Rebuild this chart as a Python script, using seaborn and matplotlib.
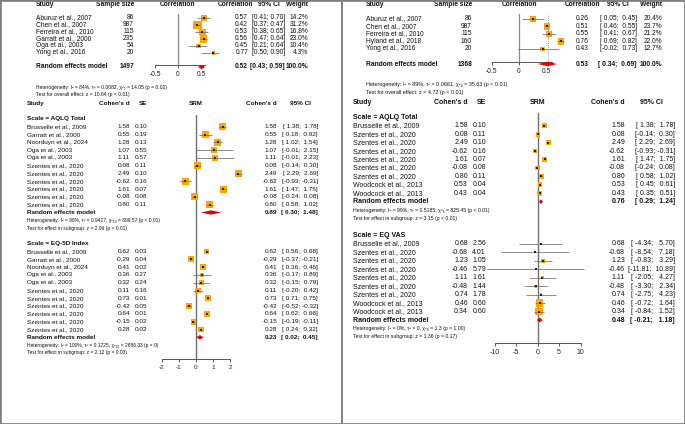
import numpy as np
import pandas as pd
import matplotlib
matplotlib.use('Agg')
import matplotlib.pyplot as plt
import seaborn as sns
from matplotlib.transforms import blended_transform_factory
from matplotlib.patches import Rectangle
from matplotlib.lines import Line2D

sns.set_style('white')
plt.rcParams['font.family'] = ['Liberation Sans', 'DejaVu Sans']

### DATA

# correlation, left panel
corL_study = ['Aburuz et al., 2007', 'Chen et al., 2007', 'Ferreira et al., 2010',
              'Garratt et al., 2000', 'Oga et al., 2003', 'Yong et al., 2016']
corL_n = [86, 987, 115, 235, 54, 20]
corL_r = [0.57, 0.42, 0.53, 0.56, 0.45, 0.77]
corL_lo = [0.41, 0.37, 0.38, 0.47, 0.21, 0.50]
corL_hi = [0.70, 0.47, 0.65, 0.64, 0.64, 0.90]
corL_w = [14.2, 31.2, 16.8, 23.0, 10.4, 4.3]
corL_pool = [1497, 0.52, 0.43, 0.59]
corL_het = 'Heterogeneity: I² = 84%, τ² = 0.0082, χ²₅ = 14.05 (p = 0.02)'
corL_test = 'Test for overall effect: z = 10.64 (p < 0.01)'

# correlation, right panel
corR_study = ['Aburuz et al., 2007', 'Chen et al., 2007', 'Ferreira et al., 2010',
              'Hyland et al., 2018', 'Yong et al., 2016']
corR_n = [86, 987, 115, 160, 20]
corR_r = [0.26, 0.51, 0.55, 0.76, 0.43]
corR_lo = [0.05, 0.46, 0.41, 0.69, -0.02]
corR_hi = [0.45, 0.55, 0.67, 0.82, 0.73]
corR_w = [20.4, 23.7, 21.2, 22.0, 12.7]
corR_pool = [1368, 0.53, 0.34, 0.69]
corR_het = 'Heterogeneity: I² = 89%, τ² = 0.0661, χ²₄ = 35.63 (p < 0.01)'
corR_test = 'Test for overall effect: z = 4.72 (p < 0.01)'

cor_ticks = [-0.5, 0, 0.5]
cor_ticklabels = ['-0.5', '0', '0.5']

# SRM, left panel, AQLQ Total
srmL1_study = ['Brusselle et al., 2009', 'Garratt et al., 2000', 'Noorduyn et al., 2024',
               'Oga et al., 2003', 'Oga et al., 2003', 'Szentes et al., 2020',
               'Szentes et al., 2020', 'Szentes et al., 2020', 'Szentes et al., 2020',
               'Szentes et al., 2020', 'Szentes et al., 2020']
srmL1_d = [1.58, 0.55, 1.28, 1.07, 1.11, 0.08, 2.49, -0.62, 1.61, -0.08, 0.80]
srmL1_se = [0.10, 0.19, 0.13, 0.55, 0.57, 0.11, 0.10, 0.16, 0.07, 0.08, 0.11]
srmL1_lo = [1.38, 0.18, 1.02, -0.01, -0.01, -0.14, 2.29, -0.93, 1.47, -0.24, 0.58]
srmL1_hi = [1.78, 0.92, 1.54, 2.15, 2.23, 0.30, 2.69, -0.31, 1.75, 0.08, 1.02]
srmL1_pool = [0.89, 0.30, 1.48]
srmL1_tau2 = 0.9417
srmL1_het = 'Heterogeneity: I² = 98%, τ² = 0.9417, χ²₁₀ = 899.57 (p < 0.01)'
srmL1_test = 'Test for effect in subgroup: z = 2.96 (p < 0.01)'

# SRM, left panel, EQ-5D Index
srmL2_study = ['Brusselle et al., 2009', 'Garratt et al., 2000', 'Noorduyn et al., 2024',
               'Oga et al., 2003', 'Oga et al., 2003', 'Szentes et al., 2020',
               'Szentes et al., 2020', 'Szentes et al., 2020', 'Szentes et al., 2020',
               'Szentes et al., 2020', 'Szentes et al., 2020']
srmL2_d = [0.62, -0.29, 0.41, 0.36, 0.32, 0.11, 0.73, -0.42, 0.64, -0.15, 0.28]
srmL2_se = [0.03, 0.04, 0.02, 0.27, 0.24, 0.16, 0.01, 0.05, 0.01, 0.02, 0.02]
srmL2_lo = [0.56, -0.37, 0.36, -0.17, -0.15, -0.20, 0.71, -0.52, 0.62, -0.19, 0.24]
srmL2_hi = [0.68, -0.21, 0.46, 0.89, 0.79, 0.42, 0.75, -0.32, 0.66, -0.11, 0.32]
srmL2_pool = [0.23, 0.02, 0.45]
srmL2_tau2 = 0.1225
srmL2_het = 'Heterogeneity: I² = 100%, τ² = 0.1225, χ²₁₀ = 2656.33 (p = 0)'
srmL2_test = 'Test for effect in subgroup: z = 2.12 (p = 0.03)'

srmL_ticks = [-2, -1, 0, 1, 2]
srmL_ticklabels = ['-2', '-1', '0', '1', '2']

# SRM, right panel, AQLQ Total
srmR1_study = ['Brusselle et al., 2009', 'Szentes et al., 2020', 'Szentes et al., 2020',
               'Szentes et al., 2020', 'Szentes et al., 2020', 'Szentes et al., 2020',
               'Szentes et al., 2020', 'Woodcock et al., 2013', 'Woodcock et al., 2013']
srmR1_d = [1.58, 0.08, 2.49, -0.62, 1.61, -0.08, 0.80, 0.53, 0.43]
srmR1_se = [0.10, 0.11, 0.10, 0.16, 0.07, 0.08, 0.11, 0.04, 0.04]
srmR1_lo = [1.38, -0.14, 2.29, -0.93, 1.47, -0.24, 0.58, 0.45, 0.35]
srmR1_hi = [1.78, 0.30, 2.69, -0.31, 1.75, 0.08, 1.02, 0.61, 0.51]
srmR1_pool = [0.76, 0.29, 1.24]
srmR1_tau2 = 0.5185
srmR1_het = 'Heterogeneity: I² = 99%, τ² = 0.5185, χ²₈ = 825.45 (p < 0.01)'
srmR1_test = 'Test for effect in subgroup: z = 3.15 (p < 0.01)'

# SRM, right panel, EQ VAS
srmR2_study = ['Brusselle et al., 2009', 'Szentes et al., 2020', 'Szentes et al., 2020',
               'Szentes et al., 2020', 'Szentes et al., 2020', 'Szentes et al., 2020',
               'Szentes et al., 2020', 'Woodcock et al., 2013', 'Woodcock et al., 2013']
srmR2_d = [0.68, -0.68, 1.23, -0.46, 1.11, -0.48, 0.74, 0.46, 0.34]
srmR2_se = [2.56, 4.01, 1.05, 5.79, 1.61, 1.44, 1.78, 0.60, 0.60]
srmR2_lo = [-4.34, -8.54, -0.83, -11.81, -2.05, -3.30, -2.75, -0.72, -0.84]
srmR2_hi = [5.70, 7.18, 3.29, 10.89, 4.27, 2.34, 4.23, 1.64, 1.52]
srmR2_pool = [0.48, -0.21, 1.18]
srmR2_tau2 = 0.0
srmR2_het = 'Heterogeneity: I² = 0%, τ² = 0, χ²₈ = 1.3 (p = 1.00)'
srmR2_test = 'Test for effect in subgroup: z = 1.36 (p = 0.17)'

srmR_ticks = [-10, -5, 0, 5, 10]
srmR_ticklabels = ['-10', '-5', '0', '5', '10']

### STYLE
ORANGE = '#ffa500'
RED = '#e00000'
CI_COL = '#6e6e6e'
ZERO_COL = '#8a8a8a'

W, H = 685, 424
fig = plt.figure(figsize=(W / 100, H / 100), dpi=100)


def make_axes(zero, ppu, xlim, row0, step, top, bot):
    x0 = zero + xlim[0] * ppu
    x1 = zero + xlim[1] * ppu
    y0 = row0 + top * step
    y1 = row0 + bot * step
    ax = fig.add_axes([x0 / W, 1 - y1 / H, (x1 - x0) / W, (y1 - y0) / H])
    ax.patch.set_alpha(0)
    ax.lims = (xlim, (bot, top))
    return ax


def finish(ax, ticks, labels, fs):
    ax.set_xlim(ax.lims[0])
    ax.set_ylim(ax.lims[1])
    for s in ['top', 'right', 'left']:
        ax.spines[s].set_visible(False)
    ax.spines['bottom'].set_color('#555555')
    ax.spines['bottom'].set_linewidth(0.7)
    ax.set_yticks([])
    ax.set_xticks(ticks)
    ax.set_xticklabels(labels)
    ax.tick_params(axis='x', length=2.5, width=0.7, color='#555555', labelsize=fs,
                   pad=1.8, labelcolor='#222222', bottom=True)
    ax.set_xlabel('')
    ax.set_ylabel('')
    ax.grid(False)


def put(ax, xpx, slot, s, ha='left', fs=4.5, bold=False):
    tr = blended_transform_factory(fig.transFigure, ax.transData)
    ax.text(xpx / W, slot, s, transform=tr, ha=ha, va='center', fontsize=fs,
            fontweight='bold' if bold else 'normal', color='#111111', clip_on=False)


def studies(ax, est, lo, hi, w, slots, smax):
    d = pd.DataFrame({'est': est, 'slot': slots, 'w': w})
    sns.scatterplot(data=d, x='est', y='slot', size='w', sizes=(0, smax),
                    size_norm=(0, max(w)), marker='s', color=ORANGE, edgecolor='none',
                    linewidth=0, legend=False, ax=ax, zorder=3, clip_on=False)
    ax.hlines(slots, lo, hi, color=CI_COL, lw=0.55, zorder=4, clip_on=False)
    ax.scatter(est, slots, s=0.7, color='#222222', marker='s', lw=0, zorder=5, clip_on=False)


def pooled(ax, est, lo, hi, slot, h):
    ax.fill([lo, est, hi, est], [slot, slot - h, slot, slot + h], color=RED, lw=0,
            zorder=6, clip_on=False)


def ci_txt(lo, hi, width):
    return f'[{lo:>{width}.2f}; {hi:>{width}.2f}]'


def ci_width(vals):
    return max(len(f'{v:.2f}') for v in vals)


### CORRELATION FORESTS
def cor_forest(study, n, r, lo, hi, w, pool, het, test, zero, ppu, xlim, row0, step,
               cols, fs, fs_small, smax, het_slots, dotted):
    nrow = len(study)
    ax = make_axes(zero, ppu, xlim, row0, step, -0.6, nrow + 0.7)
    slots = np.arange(nrow)
    ax.axvline(0, color=ZERO_COL, lw=0.9, zorder=1)
    if dotted:
        ax.axvline(pool[1], color='#777777', lw=0.6, ls=(0, (1, 1.5)), zorder=1)
    studies(ax, r, lo, hi, w, slots, smax)
    pooled(ax, pool[1], pool[2], pool[3], nrow + 1, 0.3)
    wd = ci_width(lo + hi + pool[2:])
    c = cols
    put(ax, c['study'], -1.9, 'Study', fs=fs, bold=True)
    put(ax, c['n'], -1.9, 'Sample size', 'right', fs, True)
    put(ax, zero, -1.9, 'Correlation', 'center', fs, True)
    put(ax, c['r_head'], -1.9, 'Correlation', 'right', fs, True)
    put(ax, c['ci_head'], -1.9, '95% CI', 'center', fs, True)
    put(ax, c['w'], -1.9, 'Weight', 'right', fs, True)
    for i in range(nrow):
        put(ax, c['study'], i, study[i], fs=fs)
        put(ax, c['n'], i, str(n[i]), 'right', fs)
        put(ax, c['r'], i, f'{r[i]:.2f}', 'right', fs)
        put(ax, c['ci'], i, ci_txt(lo[i], hi[i], wd), 'right', fs)
        put(ax, c['w'], i, f'{w[i]:.1f}%', 'right', fs)
    k = nrow + 1
    put(ax, c['study'], k, 'Random effects model', fs=fs, bold=True)
    put(ax, c['n'], k, str(pool[0]), 'right', fs, True)
    put(ax, c['r'], k, f'{pool[1]:.2f}', 'right', fs, True)
    put(ax, c['ci'], k, ci_txt(pool[2], pool[3], wd), 'right', fs, True)
    put(ax, c['w'], k, '100.0%', 'right', fs, True)
    put(ax, c['study'], het_slots[0], het, fs=fs_small)
    put(ax, c['study'], het_slots[1], test, fs=fs_small)
    finish(ax, cor_ticks, cor_ticklabels, fs)
    return ax


cor_forest(corL_study, corL_n, corL_r, corL_lo, corL_hi, corL_w, corL_pool, corL_het, corL_test,
           zero=178, ppu=46, xlim=(-0.5, 0.58), row0=18, step=7,
           cols=dict(study=36, n=134, r_head=253, r=248, ci=285, ci_head=269, w=308),
           fs=4.8, fs_small=3.6, smax=38, het_slots=(10.0, 10.95), dotted=False)

cor_forest(corR_study, corR_n, corR_r, corR_lo, corR_hi, corR_w, corR_pool, corR_het, corR_test,
           zero=519, ppu=55, xlim=(-0.5, 0.6), row0=19, step=7.5,
           cols=dict(study=366, n=472, r_head=600, r=589, ci=637, ci_head=618, w=662),
           fs=4.8, fs_small=3.9, smax=22, het_slots=(8.75, 9.75), dotted=True)


### SRM FORESTS
def srm_forest(groups, zero, ppu, xlim, row0, step, top, bot, cols, fs, fs_small,
               ticks, ticklabels, head_slot):
    ax = make_axes(zero, ppu, xlim, row0, step, top, bot)
    ax.axvline(0, color='#707070', lw=1.0, zorder=1)
    c = cols
    put(ax, c['study'], head_slot, 'Study', fs=fs, bold=True)
    put(ax, c['d'], head_slot, "Cohen's d", 'right', fs, True)
    put(ax, c['se'], head_slot, 'SE', 'right', fs, True)
    put(ax, zero, head_slot, 'SRM', 'center', fs, True)
    put(ax, c['d2'], head_slot, "Cohen's d", 'right', fs, True)
    put(ax, c['ci_head'], head_slot, '95% CI', 'center', fs, True)
    for g in groups:
        start = g['start']
        nrow = len(g['study'])
        slots = np.arange(nrow) + start
        wts = [1.0 / (s ** 2 + g['tau2']) for s in g['se']]
        studies(ax, g['d'], g['lo'], g['hi'], wts, slots, g['smax'])
        p = g['pool']
        pooled(ax, p[0], p[1], p[2], start + nrow, 0.28)
        wd = ci_width(g['lo'] + g['hi'] + p[1:])
        put(ax, c['study'], start - 1, g['label'], fs=fs, bold=True)
        for i in range(nrow):
            put(ax, c['study'], slots[i], g['study'][i], fs=fs)
            put(ax, c['d'], slots[i], f"{g['d'][i]:.2f}", 'right', fs)
            put(ax, c['se'], slots[i], f"{g['se'][i]:.2f}", 'right', fs)
            put(ax, c['d2'], slots[i], f"{g['d'][i]:.2f}", 'right', fs)
            put(ax, c['ci'], slots[i], ci_txt(g['lo'][i], g['hi'][i], wd), 'right', fs)
        k = start + nrow
        put(ax, c['study'], k, 'Random effects model', fs=fs, bold=True)
        put(ax, c['d2'], k, f'{p[0]:.2f}', 'right', fs, True)
        put(ax, c['ci'], k, ci_txt(p[1], p[2], wd), 'right', fs, True)
        put(ax, c['study'], k + 1, g['het'], fs=fs_small)
        put(ax, c['study'], k + 2, g['test'], fs=fs_small)
    finish(ax, ticks, ticklabels, fs)
    return ax


srm_forest([
    dict(label='Scale = AQLQ Total', start=0, study=srmL1_study, d=srmL1_d, se=srmL1_se,
         lo=srmL1_lo, hi=srmL1_hi, pool=srmL1_pool, tau2=srmL1_tau2, het=srmL1_het,
         test=srmL1_test, smax=25),
    dict(label='Scale = EQ-5D Index', start=16, study=srmL2_study, d=srmL2_d, se=srmL2_se,
         lo=srmL2_lo, hi=srmL2_hi, pool=srmL2_pool, tau2=srmL2_tau2, het=srmL2_het,
         test=srmL2_test, smax=18),
], zero=196, ppu=17, xlim=(-2, 2), row0=126.7, step=7.8, top=-1.5, bot=29.8,
    cols=dict(study=26.7, d=130, se=147, d2=277, ci=318, ci_head=300),
    fs=4.6, fs_small=3.5, ticks=srmL_ticks, ticklabels=srmL_ticklabels, head_slot=-3.0)

srm_forest([
    dict(label='Scale = AQLQ Total', start=0, study=srmR1_study, d=srmR1_d, se=srmR1_se,
         lo=srmR1_lo, hi=srmR1_hi, pool=srmR1_pool, tau2=srmR1_tau2, het=srmR1_het,
         test=srmR1_test, smax=12),
    dict(label='Scale = EQ VAS', start=14, study=srmR2_study, d=srmR2_d, se=srmR2_se,
         lo=srmR2_lo, hi=srmR2_hi, pool=srmR2_pool, tau2=srmR2_tau2, het=srmR2_het,
         test=srmR2_test, smax=30),
], zero=537.7, ppu=4.29, xlim=(-10, 10), row0=125.7, step=8.45, top=-1.5, bot=25.7,
    cols=dict(study=352.7, d=468, se=486, d2=625, ci=675, ci_head=651),
    fs=5.0, fs_small=3.7, ticks=srmR_ticks, ticklabels=srmR_ticklabels, head_slot=-2.8)

# FRAME
fig.add_artist(Rectangle((0, 0), 1, 1, transform=fig.transFigure, fill=False,
                         ec='#808080', lw=2.0))
fig.add_artist(Line2D([342 / W, 342 / W], [0, 1], transform=fig.transFigure,
                      color='#808080', lw=1.4))

fig.savefig('out.png', dpi=100)
